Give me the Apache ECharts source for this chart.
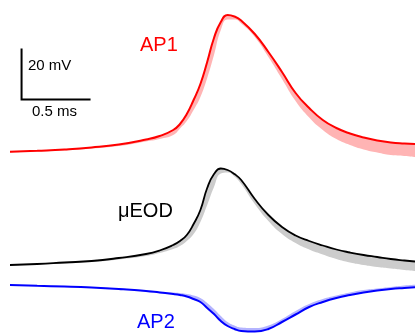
<!DOCTYPE html>
<html>
<head>
<meta charset="utf-8">
<style>
    html, body { margin: 0; padding: 0; background: #ffffff; }
    #chart01 { width: 415px; height: 333px; }
</style>
<script src="https://cdn.jsdelivr.net/npm/echarts@6/dist/echarts.min.js"></script>
</head>
<body>
<div id="chart01"></div>
<script>
// time axis, ms
var timeMs = [0, 0.2, 0.4, 0.6, 0.8, 1.0, 1.1, 1.2, 1.25, 1.3, 1.35, 1.4, 1.45, 1.5, 1.55,
    1.6, 1.65, 1.7, 1.8, 1.9, 2.0, 2.1, 2.2, 2.3, 2.4, 2.5, 2.6, 2.7, 2.8, 2.9, 2.978];

// AP1, mV from its own baseline (mean trace + lower edge of the spread)
var ap1 = [0.1, 0.5, 1.0, 1.8, 3.0, 5.0, 6.4, 8.8, 11.2, 15.2, 20.8, 27.2, 36.0, 45.6, 52.0,
    54.8, 54.2, 52.6, 47.2, 40.0, 32.0, 23.6, 17.6, 12.8, 9.6, 7.4, 5.8, 4.6, 3.8, 3.4, 3.2];
var ap1Low = [-0.2, 0.2, 0.6, 1.4, 2.4, 4.2, 5.2, 6.8, 9.4, 12.4, 16.8, 22.0, 29.6, 38.8, 48.8,
    53.0, 53.0, 51.4, 46.0, 38.0, 29.2, 20.4, 13.8, 8.8, 5.2, 2.8, 1.0, -0.2, -1.2, -1.6, -2.0];

// µEOD
var eod = [0, 0.4, 1.0, 1.6, 2.8, 4.4, 5.8, 8.0, 9.6, 12.0, 16.4, 22.0, 30.8, 36.4, 38.6,
    38.0, 36.4, 34.0, 26.4, 20.0, 15.2, 11.8, 9.6, 7.8, 6.2, 5.0, 4.0, 3.2, 2.4, 1.8, 1.4];
var eodLow = [-0.2, 0.2, 0.6, 1.2, 2.2, 3.6, 4.8, 6.4, 7.6, 9.6, 12.4, 17.2, 24.0, 31.2, 36.6,
    37.0, 35.4, 32.4, 24.4, 17.6, 12.4, 8.8, 6.2, 4.2, 2.4, 1.0, 0, -0.8, -1.4, -2.0, -2.4];

// AP2 (upper edge of the spread)
var ap2 = [0, -0.32, -0.6, -1.0, -1.6, -2.4, -3.0, -3.6, -4.0, -4.6, -5.6, -6.8, -9.2, -11.6, -14.4,
    -16.4, -17.6, -18.4, -18.6, -17.6, -14.8, -11.8, -8.8, -6.8, -5.2, -4.0, -3.0, -2.2, -1.6, -1.2, -0.92];
var ap2High = [0, -0.2, -0.4, -0.8, -1.4, -2.0, -2.6, -3.0, -3.2, -3.6, -4.2, -5.2, -7.2, -9.6, -12.4,
    -14.8, -16.2, -17.0, -17.2, -16.2, -13.6, -10.4, -7.6, -5.6, -4.2, -3.0, -2.0, -1.4, -0.8, -0.2, 0.08];

// scale bar: 20 mV / 0.5 ms (drawn on AP1 axis)
var scaleBar = [[0.085, 41], [0.085, 21], [0.585, 21]];

function pairs(xs, ys) {
    return xs.map(function (x, i) { return [x, ys[i]]; });
}
function diff(a, b) {
    return a.map(function (v, i) { return +(v - b[i]).toFixed(3); });
}

// spread drawn as a stacked area: invisible base + difference
function band(stackName, base, top, color, axisIndex) {
    return [
        {
            type: 'line', yAxisIndex: axisIndex, stack: stackName, stackStrategy: 'all',
            smooth: true, symbol: 'none', silent: true,
            lineStyle: { opacity: 0 },
            data: pairs(timeMs, base)
        },
        {
            type: 'line', yAxisIndex: axisIndex, stack: stackName, stackStrategy: 'all',
            smooth: true, symbol: 'none', silent: true,
            lineStyle: { opacity: 0 },
            areaStyle: { color: color, opacity: 1 },
            data: pairs(timeMs, diff(top, base))
        }
    ];
}

function trace(values, color, width, axisIndex) {
    return {
        type: 'line', yAxisIndex: axisIndex, smooth: true, symbol: 'none', silent: true,
        lineStyle: { color: color, width: width },
        data: pairs(timeMs, values)
    };
}

function chart01(id) {
    var myChart = echarts.init(document.getElementById(id));
    var labelFont = '20px "Liberation Sans", Arial, sans-serif';
    var smallFont = '15px "Liberation Sans", Arial, sans-serif';
    var option = {
        animation: false,
        backgroundColor: '#ffffff',
        grid: { left: 10, right: 0, top: 0, bottom: 0 },
        // 'time' keeps the x dimension out of the stacking, so only y is stacked
        xAxis: { type: 'time', min: 0, max: 2.978, show: false },
        yAxis: [
            { type: 'value', min: -72.4, max: 60.8, show: false },   // AP1
            { type: 'value', min: -27.2, max: 106, show: false },    // uEOD
            { type: 'value', min: -19.2, max: 114, show: false }     // AP2
        ],
        graphic: [
            { type: 'text', style: { text: 'AP1', x: 140, y: 45, fill: '#ff0000', font: labelFont, verticalAlign: 'middle' } },
            { type: 'text', style: { text: 'μEOD', x: 118, y: 211, fill: '#000000', font: labelFont, verticalAlign: 'middle' } },
            { type: 'text', style: { text: 'AP2', x: 137, y: 322, fill: '#0000ff', font: labelFont, verticalAlign: 'middle' } },
            { type: 'text', style: { text: '20 mV', x: 28, y: 66, fill: '#000000', font: smallFont, verticalAlign: 'middle' } },
            { type: 'text', style: { text: '0.5 ms', x: 32, y: 112, fill: '#000000', font: smallFont, verticalAlign: 'middle' } }
        ],
        series: [].concat(
            band('b1', ap1Low, ap1, '#ffb4b4', 0),
            band('b2', eodLow, eod, '#cccccc', 1),
            band('b3', ap2, ap2High, '#b4b4ff', 2),
            [
                trace(ap1, '#ff0000', 2, 0),
                trace(eod, '#000000', 1.8, 1),
                trace(ap2, '#0000ff', 2, 2),
                {
                    type: 'line', yAxisIndex: 0, symbol: 'none', silent: true,
                    lineStyle: { color: '#000000', width: 2, join: 'miter', cap: 'square' },
                    data: scaleBar
                }
            ]
        )
    };

    myChart.setOption(option);
    return myChart;
}

var chartInit01 = chart01('chart01');
window.addEventListener('resize', function () {
    chartInit01.resize();
});
</script>
</body>
</html>
